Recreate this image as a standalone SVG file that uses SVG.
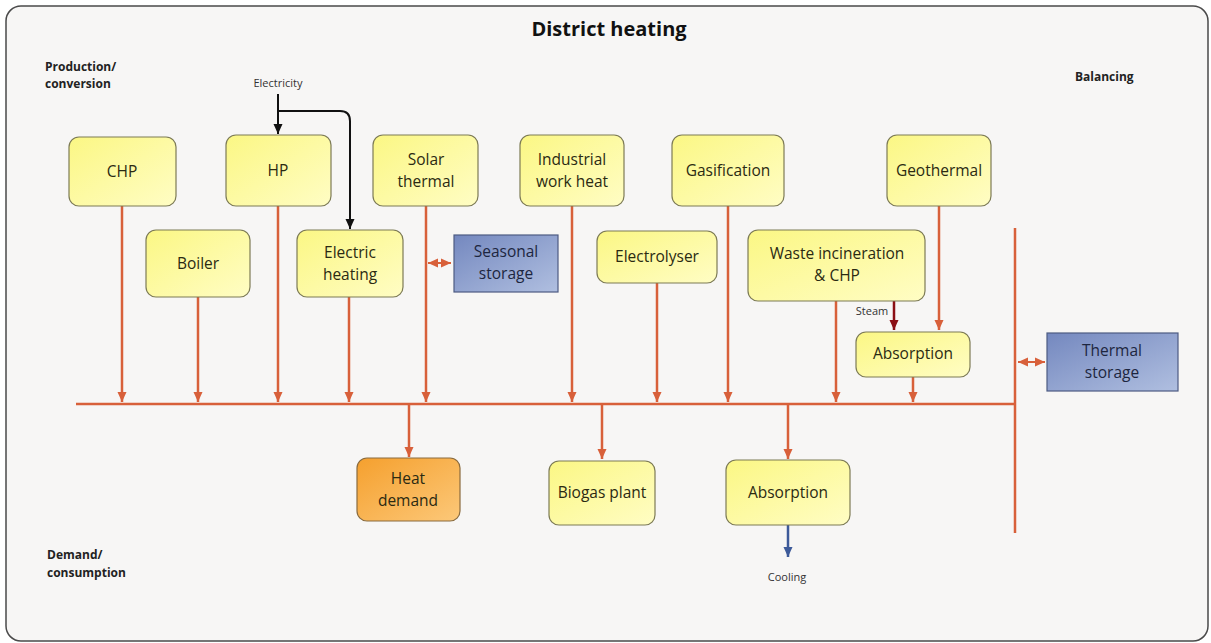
<svg xmlns="http://www.w3.org/2000/svg" width="1211" height="643" viewBox="0 0 1211 643">
<defs>
<linearGradient id="gy" x1="0" y1="0" x2="1" y2="1"><stop offset="0" stop-color="#fbf784"/><stop offset="1" stop-color="#fffdc4"/></linearGradient>
<linearGradient id="gb" x1="0" y1="0" x2="1" y2="1"><stop offset="0" stop-color="#7488bf"/><stop offset="1" stop-color="#b0bfe0"/></linearGradient>
<linearGradient id="go" x1="0" y1="0" x2="1" y2="1"><stop offset="0" stop-color="#f5a02e"/><stop offset="1" stop-color="#fcc879"/></linearGradient>
<marker id="ao" markerUnits="userSpaceOnUse" markerWidth="10" markerHeight="10" refX="10" refY="5" orient="auto"><path d="M0,0.5 L10,5 L0,9.5 z" fill="#d8603a"/></marker>
<marker id="aos" markerUnits="userSpaceOnUse" markerWidth="10" markerHeight="10" refX="10" refY="5" orient="auto-start-reverse"><path d="M0,0.5 L10,5 L0,9.5 z" fill="#d8603a"/></marker>
<marker id="ak" markerUnits="userSpaceOnUse" markerWidth="10" markerHeight="10" refX="10" refY="5" orient="auto"><path d="M0,0.5 L10,5 L0,9.5 z" fill="#111"/></marker>
<marker id="ar" markerUnits="userSpaceOnUse" markerWidth="10" markerHeight="10" refX="10" refY="5" orient="auto"><path d="M0,0.5 L10,5 L0,9.5 z" fill="#8b0f14"/></marker>
<marker id="abl" markerUnits="userSpaceOnUse" markerWidth="10" markerHeight="10" refX="10" refY="5" orient="auto"><path d="M0,0.5 L10,5 L0,9.5 z" fill="#3d5a99"/></marker>
</defs>
<style>
.frame{fill:#f7f6f5;stroke:#4a4a4a;stroke-width:1.5}
.y{fill:url(#gy);stroke:#7d7b55;stroke-width:1.2}
.b{fill:url(#gb);stroke:#4d5b82;stroke-width:1.2}
.o{fill:url(#go);stroke:#8a6b3e;stroke-width:1.2}
text{font-family:"Open Sans","Noto Sans","DejaVu Sans",sans-serif}
.t{font-size:15.5px;fill:#2b2a12;text-anchor:middle}
.tb{font-size:15.5px;fill:#1d2640;text-anchor:middle}
.lab{font-size:12px;font-weight:bold;fill:#222}
.sm{font-size:11px;fill:#333;text-anchor:middle}
.title{font-size:20px;font-weight:bold;fill:#111;text-anchor:middle}
.ol{stroke:#d8603a;stroke-width:2.5;fill:none}
.olh{stroke:#d8603a;stroke-width:2.5;fill:none;marker-end:url(#ao)}
</style>
<rect class="frame" x="6" y="6" width="1202" height="635" rx="15"/>
<text class="title" x="609" y="36">District heating</text>
<text class="lab" x="45" y="71">Production/</text>
<text class="lab" x="45" y="88">conversion</text>
<text class="lab" x="1075" y="81">Balancing</text>
<text class="lab" x="47" y="559">Demand/</text>
<text class="lab" x="47" y="577">consumption</text>
<g id="connectors">
<line class="ol" x1="76" y1="404" x2="1016" y2="404"/>
<line class="ol" x1="1015" y1="228" x2="1015" y2="533"/>
<line class="olh" x1="122" y1="206" x2="122" y2="402"/>
<line class="olh" x1="198" y1="297" x2="198" y2="402"/>
<line class="olh" x1="278" y1="206" x2="278" y2="402"/>
<line class="olh" x1="349" y1="297" x2="349" y2="402"/>
<line class="olh" x1="426" y1="206" x2="426" y2="402"/>
<line class="olh" x1="572" y1="206" x2="572" y2="402"/>
<line class="olh" x1="657" y1="283" x2="657" y2="402"/>
<line class="olh" x1="728" y1="206" x2="728" y2="402"/>
<line class="olh" x1="836" y1="301" x2="836" y2="402"/>
<line class="olh" x1="939" y1="206" x2="939" y2="330"/>
<line class="olh" x1="913" y1="376" x2="913" y2="402"/>
<line class="olh" x1="409" y1="404" x2="409" y2="457"/>
<line class="olh" x1="602" y1="404" x2="602" y2="459"/>
<line class="olh" x1="788" y1="404" x2="788" y2="459"/>
<line x1="428" y1="263" x2="451" y2="263" stroke="#d8603a" stroke-width="2" marker-start="url(#aos)" marker-end="url(#aos)"/>
<line x1="1018" y1="362" x2="1045" y2="362" stroke="#d8603a" stroke-width="2" marker-start="url(#aos)" marker-end="url(#aos)"/>
<line x1="894" y1="301" x2="894" y2="330" stroke="#8b0f14" stroke-width="2.5" marker-end="url(#ar)"/>
<line x1="788" y1="525" x2="788" y2="557" stroke="#3d5a99" stroke-width="2.5" marker-end="url(#abl)"/>
<path d="M278,94 V134" stroke="#111" stroke-width="2" fill="none" marker-end="url(#ak)"/>
<path d="M278,111 H340 Q350,111 350,121 V229" stroke="#111" stroke-width="2" fill="none" marker-end="url(#ak)"/>
<text class="sm" x="278" y="87">Electricity</text>
<text class="sm" x="872" y="315">Steam</text>
<text class="sm" x="787" y="581">Cooling</text>
</g>
<g id="chp"><rect class="y" x="69" y="137" width="107" height="69" rx="10"/><text class="t" x="122" y="177">CHP</text></g>
<g id="hp"><rect class="y" x="226" y="135" width="105" height="71" rx="10"/><text class="t" x="278" y="176">HP</text></g>
<g id="solar"><rect class="y" x="373" y="135" width="105" height="71" rx="10"/><text class="t" x="426" y="165">Solar</text><text class="t" x="426" y="187">thermal</text></g>
<g id="industrial"><rect class="y" x="520" y="135" width="104" height="71" rx="10"/><text class="t" x="572" y="165">Industrial</text><text class="t" x="572" y="187">work heat</text></g>
<g id="gasification"><rect class="y" x="672" y="135" width="112" height="71" rx="10"/><text class="t" x="728" y="176">Gasification</text></g>
<g id="geothermal"><rect class="y" x="887" y="135" width="104" height="71" rx="10"/><text class="t" x="939" y="176">Geothermal</text></g>
<g id="boiler"><rect class="y" x="146" y="230" width="104" height="67" rx="10"/><text class="t" x="198" y="269">Boiler</text></g>
<g id="electric"><rect class="y" x="297" y="230" width="106" height="67" rx="10"/><text class="t" x="350" y="258">Electric</text><text class="t" x="350" y="280">heating</text></g>
<g id="seasonal"><rect class="b" x="454" y="235" width="104" height="57"/><text class="tb" x="506" y="257">Seasonal</text><text class="tb" x="506" y="279">storage</text></g>
<g id="electrolyser"><rect class="y" x="597" y="231" width="120" height="52" rx="10"/><text class="t" x="657" y="262">Electrolyser</text></g>
<g id="waste"><rect class="y" x="748" y="230" width="177" height="71" rx="10"/><text class="t" x="837" y="259">Waste incineration</text><text class="t" x="837" y="281">&amp; CHP</text></g>
<g id="absorption1"><rect class="y" x="856" y="332" width="114" height="45" rx="10"/><text class="t" x="913" y="359">Absorption</text></g>
<g id="thermal"><rect class="b" x="1047" y="333" width="131" height="58"/><text class="tb" x="1112" y="356">Thermal</text><text class="tb" x="1112" y="378">storage</text></g>
<g id="heatdemand"><rect class="o" x="357" y="458" width="103" height="63" rx="10"/><text class="t" x="408" y="484">Heat</text><text class="t" x="408" y="506">demand</text></g>
<g id="biogas"><rect class="y" x="549" y="461" width="106" height="64" rx="10"/><text class="t" x="602" y="498">Biogas plant</text></g>
<g id="absorption2"><rect class="y" x="726" y="460" width="124" height="65" rx="10"/><text class="t" x="788" y="498">Absorption</text></g>
</svg>
